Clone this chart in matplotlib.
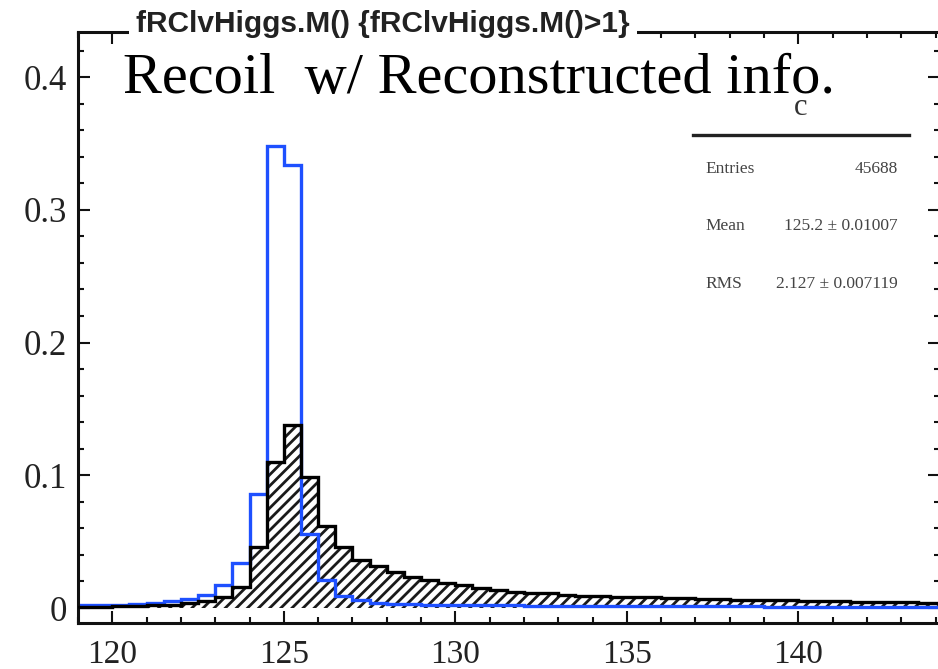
import numpy as np
import matplotlib
matplotlib.use("Agg")
import matplotlib.pyplot as plt
from matplotlib.ticker import MultipleLocator
from matplotlib.lines import Line2D

# Histogram binning (GeV)
bin_start = 119.0
bin_width = 0.5

# Recoil mass with true information (blue outline)
recoil_true = [
    0.0020, 0.0020, 0.0022, 0.0030, 0.0035, 0.0050, 0.0070, 0.0095, 0.0170, 0.0340,
    0.0860, 0.3480, 0.3340, 0.0560, 0.0210, 0.0090, 0.0060, 0.0040, 0.0030, 0.0027,
    0.0025, 0.0023, 0.0022, 0.0020, 0.0020, 0.0019, 0.0018, 0.0018, 0.0017, 0.0016,
    0.0016, 0.0015, 0.0015, 0.0014, 0.0014, 0.0013, 0.0013, 0.0012, 0.0012, 0.0012,
    0.0011, 0.0011, 0.0011, 0.0010, 0.0010, 0.0010, 0.0010, 0.0010, 0.0009, 0.0009,
    0.0009,
]

# Recoil mass with reconstructed information (hatched)
recoil_reco = [
    0.0010, 0.0010, 0.0012, 0.0015, 0.0020, 0.0025, 0.0035, 0.0055, 0.0085, 0.0160,
    0.0460, 0.1100, 0.1380, 0.0990, 0.0620, 0.0460, 0.0360, 0.0320, 0.0270, 0.0235,
    0.0210, 0.0190, 0.0170, 0.0150, 0.0135, 0.0123, 0.0115, 0.0110, 0.0100, 0.0092,
    0.0088, 0.0085, 0.0082, 0.0080, 0.0077, 0.0074, 0.0070, 0.0067, 0.0064, 0.0062,
    0.0060, 0.0057, 0.0055, 0.0052, 0.0050, 0.0048, 0.0046, 0.0044, 0.0042, 0.0040,
    0.0040,
]

xticks_major = [120, 125, 130, 135, 140]
yticks_major = [0, 0.1, 0.2, 0.3, 0.4]
ytick_labels = ["0", "0.1", "0.2", "0.3", "0.4"]

stats_names = ["Entries", "Mean", "RMS"]
stats_values = ["45688", "125.2 \u00b1 0.01007", "2.127 \u00b1 0.007119"]

title_text = "fRClvHiggs.M() {fRClvHiggs.M()>1}"
label_text = "Recoil  w/ Reconstructed info."

edges = bin_start + bin_width * np.arange(len(recoil_reco) + 1)

plt.rcParams["hatch.linewidth"] = 2.0
plt.rcParams["font.family"] = ["Liberation Serif", "DejaVu Serif"]

W, H = 938, 669
fig = plt.figure(figsize=(W / 100, H / 100), dpi=100)
ax = fig.add_axes([78 / W, 46 / H, 862 / W, 591 / H])

blue = "#1e50ff"

# hatched fill of the reconstructed distribution
ax.stairs(recoil_reco, edges, fill=True, facecolor="none", edgecolor="#1a1a1a",
          hatch="///", linewidth=0, zorder=1)
# true-information outline
ax.stairs(recoil_true, edges, color=blue, linewidth=2.4, baseline=0, zorder=2)
# reconstructed outline
ax.stairs(recoil_reco, edges, color="black", linewidth=2.4, baseline=0, zorder=3)

ax.set_xlim(119.0, 144.13)
ax.set_ylim(-0.0113, 0.434)

ax.set_xticks(xticks_major)
ax.set_xticklabels([str(t) for t in xticks_major])
ax.xaxis.set_minor_locator(MultipleLocator(1))
ax.set_yticks(yticks_major)
ax.set_yticklabels(ytick_labels)
ax.yaxis.set_minor_locator(MultipleLocator(0.02))

ax.tick_params(which="both", direction="in", top=True, right=True,
               width=1.5, color="#111111")
ax.tick_params(which="major", length=8.5, labelsize=24, pad=8)
ax.tick_params(which="minor", length=4.5)
ax.tick_params(axis="x", which="major", pad=12)
ax.tick_params(axis="y", which="major", labelsize=25)
for lab in ax.get_xticklabels() + ax.get_yticklabels():
    lab.set_color("#222222")

for sp in ax.spines.values():
    sp.set_linewidth(2.2)
    sp.set_color("#111111")

# histogram title with a white box over the frame
fig.text(383 / W, 1 - 24 / H, title_text, ha="center", va="center",
         family=["Liberation Sans", "DejaVu Sans"], fontweight="bold",
         fontsize=21.5, color="#222222",
         bbox=dict(facecolor="white", edgecolor="none", pad=5))

# annotation
fig.text(123 / W, 1 - 93 / H, label_text, ha="left", va="baseline",
         fontsize=42, color="black")

# statistics box
fig.text(801 / W, 1 - 115 / H, "c", ha="center", va="baseline",
         fontsize=22, color="#333333")
fig.add_artist(Line2D([693 / W, 909 / W], [1 - 135 / H, 1 - 135 / H],
                      transform=fig.transFigure, color="#222222", linewidth=2.4))
stat_baselines = [173, 230, 288]
for name, val, yb in zip(stats_names, stats_values, stat_baselines):
    fig.text(705 / W, 1 - yb / H, name, ha="left", va="baseline",
             fontsize=12.5, color="#444444")
    fig.text(898 / W, 1 - yb / H, val, ha="right", va="baseline",
             fontsize=12.5, color="#444444")

fig.savefig("out.png", dpi=100)
